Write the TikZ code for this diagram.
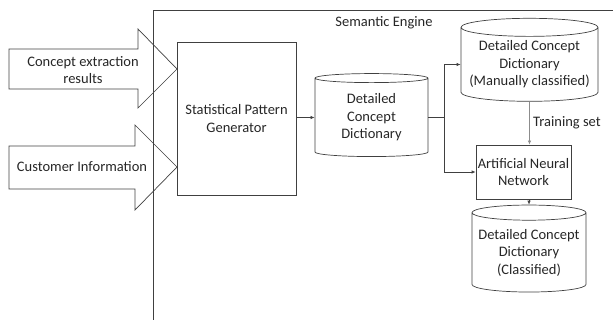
\documentclass[tikz,border=0pt]{standalone}
\usepackage{fontspec}
\setmainfont{Carlito}
\usetikzlibrary{arrows.meta,shapes.geometric}
\definecolor{linegray}{rgb}{0.25,0.25,0.25}
\definecolor{lightline}{rgb}{0.55,0.55,0.55}
\definecolor{textgray}{rgb}{0.15,0.15,0.15}

\tikzset{
  box/.style={draw=linegray, line width=0.7pt, text=textgray, align=center, inner sep=0pt},
  dict/.style={cylinder, shape border rotate=90, aspect=0.15, draw=linegray,
    line width=0.7pt, text=textgray, align=center, inner sep=0pt},
  flow/.style={draw=linegray, line width=0.7pt, -{Latex[length=4pt,width=3.5pt]}},
}

\begin{document}
\begin{tikzpicture}[x=1pt,y=-1pt,font=\fontsize{14.5}{17.5}\selectfont]
        \useasboundingbox (0,0) rectangle (613,320);
        % engine frame
        \draw[linegray, line width=0.8pt] (153,320) -- (153,10) -- (613,10);
        \node[text=textgray] (engine) at (384,23) {Semantic Engine};
        % input arrows
        \draw[linegray, line width=0.7pt] (9,49) -- (138,49) -- (138,29) -- (177,69)
            -- (138,108) -- (138,89) -- (9,89) -- cycle;
        \draw[linegray, line width=0.7pt] (9,146) -- (135,146) -- (135,125) -- (177,167)
            -- (135,210) -- (135,189) -- (9,189) -- cycle;
        \node[text=textgray, align=center] (concept) at (83,70) {Concept extraction\\results};
        \node[text=textgray] (customer) at (82,167) {Customer Information};
        % blocks
        \node[box, minimum width=119, minimum height=153] (spg) at (236.5,118.5)
            {Statistical Pattern\\Generator};
        \node[dict, minimum width=113, minimum height=83] (dcd) at (371.5,117.5)
            {Detailed\\Concept\\Dictionary};
        \node[dict, minimum width=137, minimum height=83] (dcdm) at (529.5,64.5)
            {Detailed Concept\\Dictionary\\(Manually classified)};
        \node[box, minimum width=95, minimum height=54] (ann) at (523.5,172)
            {Artificial Neural\\Network};
        \node[dict, minimum width=114, minimum height=87] (dcdc) at (529,252.5)
            {Detailed Concept\\Dictionary\\(Classified)};
        % connectors
        \coordinate (split) at ([xshift=16pt]dcd.east);
        \draw[flow] (spg.east |- dcd.west) -- (dcd.west);
        \draw[linegray, line width=0.7pt] (dcd.east) -- (split);
        \draw[flow] (split) |- (dcdm.west);
        \draw[flow] (split) |- (ann.west);
        \draw[flow, draw=lightline] (dcdm.south) -- (dcdm.south |- ann.north)
            node[midway, right, text=textgray] (train) {Training set};
        \draw[flow] (dcdc.north |- ann.south) -- (dcdc.north);
    \end{tikzpicture}
\end{document}
